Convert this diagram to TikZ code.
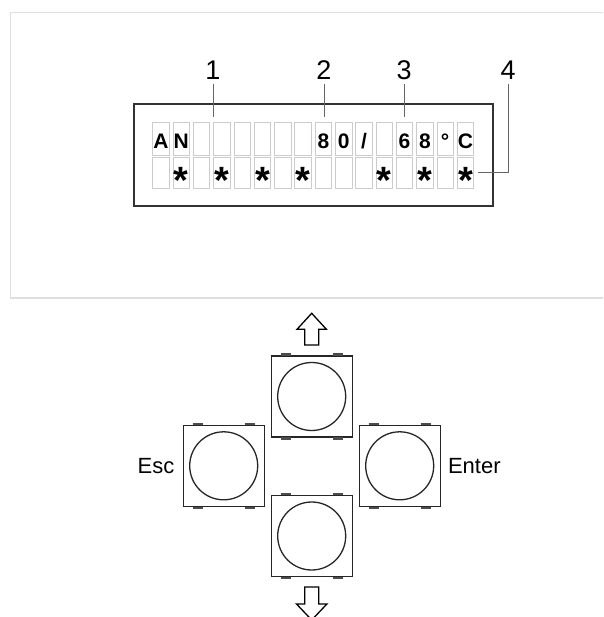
\documentclass[tikz,border=0pt]{standalone}
\usepackage{fontspec}
\setmainfont{Liberation Sans}
\usetikzlibrary{positioning}
\begin{document}
\begin{tikzpicture}[x=1pt, y=-1pt,
    cella/.style={draw=gray!40, line width=0.8pt},
    cifra/.style={font=\fontsize{21}{21}\selectfont\bfseries, anchor=base, inner sep=0pt},
    stella/.style={font=\fontsize{38}{38}\selectfont\bfseries, anchor=base, inner sep=0pt},
    etich/.style={font=\fontsize{27}{27}\selectfont, anchor=base},
    guida/.style={draw=gray!80!black, line width=0.8pt},
    tasto/.style={draw=black!85, line width=1.3pt, minimum size=81pt, inner sep=0pt},
    pulsante/.style={draw=black!85, line width=1.3pt, circle, minimum size=68pt, inner sep=0pt},
    piedino/.style={draw=black!70, line width=2.2pt},
    freccia/.style={draw=black, line width=1.3pt, line join=miter},
    nome/.style={font=\fontsize{22}{22}\selectfont, inner sep=0pt}]

    \useasboundingbox (0,0) rectangle (603,617);
    \clip (0,0) rectangle (603,617);

    % Cornice grigia del pannello
    \draw[gray!25, line width=1.5pt] (10.3,12.5) rectangle (620,298);

    % Display
    \draw[black!80, line width=1.8pt] (134,104) rectangle (493,206);

    % Celle del display (due righe da 16)
    \foreach \i in {0,...,15} {
        \draw[cella] ({152.7+20.3*\i},122) rectangle +(16.5,33);
        \draw[cella] ({152.7+20.3*\i},157) rectangle +(16.5,31);
    }

    % Prima riga: testo
    \foreach \i/\c in {0/A,1/N,8/8,9/0,10/{/},12/6,13/8,14/°,15/C}
        \node[cifra] (r\i) at ({160.95+20.3*\i},148.5) {\c};

    % Seconda riga: asterischi
    \foreach \i in {1,3,5,7,11,13,15}
        \node[stella] (s\i) at ({160.95+20.3*\i},194) {*};

    % Numeri di riferimento
    \node[etich] (n1) at (213,80) {1};
    \node[etich] (n2) at (324,80) {2};
    \node[etich] (n3) at (404,80) {3};
    \node[etich] (n4) at (508,80) {4};
    \coordinate (p1) at (213,117);
    \coordinate (p2) at (324,117);
    \coordinate (p3) at (404,117);
    \coordinate (p4) at (478,172);
    \draw[guida] (n1.south) -- (p1);
    \draw[guida] (n2.south) -- (p2);
    \draw[guida] (n3.south) -- (p3);
    \draw[guida] (n4.south) |- (p4);

    % Tasti
    \foreach \t/\cx/\cy in {su/311.7/396.5, esc/223.7/465.8, enter/399.7/465.8, giu/311.7/536} {
        \node[tasto] (\t) at (\cx,\cy) {};
        \node[pulsante] (\t c) at (\t) {};
        \draw[piedino] ([xshift=-31pt,yshift=0.8pt]\t.north) -- ++(10,0);
        \draw[piedino] ([xshift=21pt,yshift=0.8pt]\t.north) -- ++(10,0);
        \draw[piedino] ([xshift=-31pt,yshift=-0.8pt]\t.south) -- ++(10,0);
        \draw[piedino] ([xshift=21pt,yshift=-0.8pt]\t.south) -- ++(10,0);
    }

    % Scritte dei tasti
    \node[nome, left=8pt of esc] (lesc) {Esc};
    \node[nome, right=7pt of enter] (lenter) {Enter};

    % Frecce su e giù
    \draw[freccia] (304.7,345) -- (304.7,329.3) -- (297,329.3) -- (311.7,313.3)
        -- (326.4,329.3) -- (318.7,329.3) -- (318.7,345) -- cycle;
    \draw[freccia] (304.7,587) -- (304.7,604) -- (296.5,604) -- (311.7,620)
        -- (326.9,604) -- (318.7,604) -- (318.7,587) -- cycle;

\end{tikzpicture}
\end{document}
